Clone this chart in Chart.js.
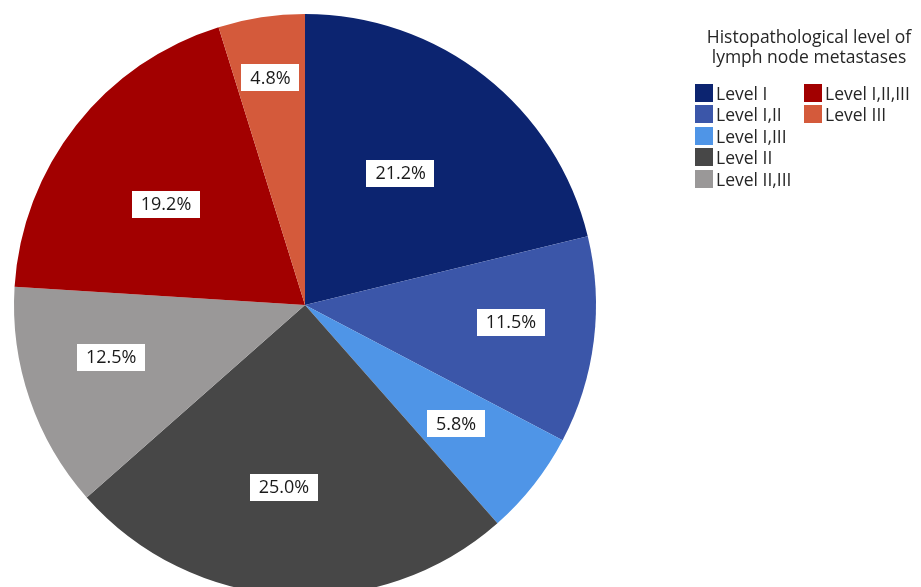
<!DOCTYPE html>
<html>
<head>
<meta charset="utf-8">
<script src="https://cdn.jsdelivr.net/npm/chart.js@4/dist/chart.umd.min.js"></script>
<style>
  html, body { margin: 0; padding: 0; background: #fff; overflow: hidden; width: 921px; height: 587px; }
  #wrap { position: absolute; left: 0; top: 0; width: 610px; height: 610px; }
  #legend { position: absolute; left: 0; top: 0; width: 921px; height: 200px; font-family: "Open Sans", sans-serif; color: #262626; }
  #legend .title { position: absolute; left: 689px; top: 26px; width: 240px; text-align: center; font-size: 17.5px; line-height: 20px; }
  #legend .col { position: absolute; top: 82px; display: flex; flex-direction: column; }
  #legend .item { display: flex; align-items: center; height: 21.5px; font-size: 17.5px; white-space: nowrap; }
  #legend .sw { width: 18px; height: 18px; margin-right: 3px; flex: none; }
</style>
</head>
<body>
<div id="wrap"><canvas id="chart"></canvas></div>
<div id="legend"></div>
<script>
// Histopathological level of lymph node metastases (share of cases, %)
const categories = ["Level I", "Level I,II", "Level I,III", "Level II", "Level II,III", "Level I,II,III", "Level III"];
const shares = [21.2, 11.5, 5.8, 25.0, 12.5, 19.2, 4.8];
const sliceColors = ["#0c2470", "#3b56a9", "#4f95e7", "#474747", "#9a9898", "#a20000", "#d45a3b"];
const legendTitle = ["Histopathological level of", "lymph node metastases"];

// value label placement: fraction of the radius, and a small turn (degrees) off the slice's middle
const labelRadius = [0.56, 0.71, 0.66, 0.63, 0.69, 0.59, 0.79];
const labelTurn = [-2.2, -2.3, 0, 3, 3.8, -2.2, 0];

const valueLabels = {
  id: "valueLabels",
  afterDatasetsDraw(chart) {
    const ctx = chart.ctx;
    const meta = chart.getDatasetMeta(0);
    ctx.save();
    ctx.font = "18px 'Open Sans', sans-serif";
    ctx.textAlign = "center";
    ctx.textBaseline = "middle";
    meta.data.forEach((arc, i) => {
      const p = arc.getProps(["x", "y", "startAngle", "endAngle", "outerRadius"], true);
      const mid = (p.startAngle + p.endAngle) / 2 + labelTurn[i] * Math.PI / 180;
      const r = p.outerRadius * labelRadius[i];
      const cx = p.x + Math.cos(mid) * r;
      const cy = p.y + Math.sin(mid) * r;
      const text = shares[i].toFixed(1) + "%";
      const w = ctx.measureText(text).width + 18;
      const h = 27;
      ctx.fillStyle = "#ffffff";
      ctx.fillRect(Math.round(cx - w / 2), Math.round(cy - h / 2), Math.round(w), h);
      ctx.fillStyle = "#1a1a1a";
      ctx.fillText(text, cx, cy + 1);
    });
    ctx.restore();
  }
};

new Chart(document.getElementById("chart"), {
  type: "pie",
  data: {
    labels: categories,
    datasets: [{
      data: shares,
      backgroundColor: sliceColors,
      borderWidth: 0
    }]
  },
  options: {
    responsive: true,
    maintainAspectRatio: false,
    animation: false,
    layout: { padding: 14 },
    plugins: {
      legend: { display: false },
      tooltip: { enabled: false }
    }
  },
  plugins: [valueLabels]
});

// legend: first five entries in one column, the rest in a second
const legend = document.getElementById("legend");
const title = document.createElement("div");
title.className = "title";
title.innerHTML = legendTitle.join("<br>");
legend.appendChild(title);
[[0, 5, 695], [5, categories.length, 804]].forEach(([a, b, left]) => {
  const col = document.createElement("div");
  col.className = "col";
  col.style.left = left + "px";
  for (let i = a; i < b; i++) {
    const item = document.createElement("div");
    item.className = "item";
    const sw = document.createElement("span");
    sw.className = "sw";
    sw.style.background = sliceColors[i];
    item.appendChild(sw);
    item.appendChild(document.createTextNode(categories[i]));
    col.appendChild(item);
  }
  legend.appendChild(col);
});
</script>
</body>
</html>
